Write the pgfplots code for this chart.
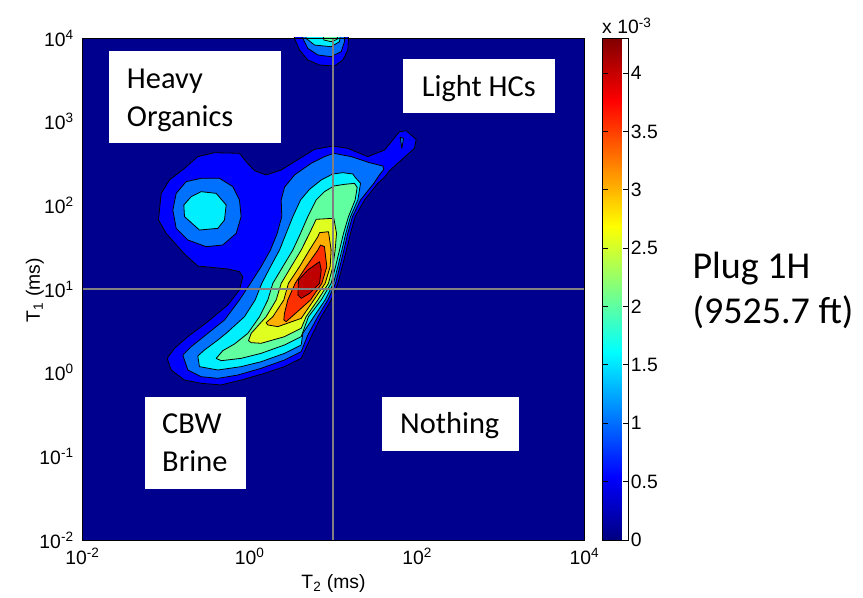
\documentclass[border=0pt]{standalone}
\usepackage{fontspec}
\setmainfont{Liberation Sans}
\newfontfamily\calibri{Carlito}
\usepackage{pgfplots}
\pgfplotsset{compat=1.18}

% contour level colours (jet, levels 0, 0.5, ..., 4 x 10^-3)
\definecolor{lev0}{rgb}{0,0,0.5625}
\definecolor{lev1}{rgb}{0,0,1}
\definecolor{lev2}{rgb}{0,0.4375,1}
\definecolor{lev3}{rgb}{0,0.9375,1}
\definecolor{lev4}{rgb}{0.375,1,0.625}
\definecolor{lev5}{rgb}{0.875,1,0.125}
\definecolor{lev6}{rgb}{1,0.6875,0}
\definecolor{lev7}{rgb}{1,0.1875,0}
\definecolor{lev8}{rgb}{0.75,0,0}

\newcommand\tickfont{\fontsize{14.5}{17}\selectfont}
\newcommand\boxfont{\calibri\fontsize{22.8}{27}\selectfont}
\newcommand\plugfont{\calibri\fontsize{28.5}{34}\selectfont}

\pgfplotsset{lev/.style={draw=black, line width=0.6pt, line join=round, fill=#1}}

\begin{document}
\begin{tikzpicture}
% coordinates are log10 of T2 and T1 (ms)
\begin{axis}[
  at={(0,0)}, anchor=south west,
  scale only axis, width=376.5pt, height=376.5pt,
  xmin=-2, xmax=4, ymin=-2, ymax=4,
  axis background/.style={fill=lev0},
  axis on top,
  axis line style={black, line width=0.6pt},
  major tick length=0pt,
  xtick={-2,0,2,4},
  xticklabels={10\textsuperscript{-2},10\textsuperscript{0},10\textsuperscript{2},10\textsuperscript{4}},
  ytick={-2,-1,0,1,2,3,4},
  yticklabels={10\textsuperscript{-2},10\textsuperscript{-1},10\textsuperscript{0},10\textsuperscript{1},10\textsuperscript{2},10\textsuperscript{3},10\textsuperscript{4}},
  xticklabel style={font=\tickfont, inner sep=0pt, yshift=-6pt},
  yticklabel style={font=\tickfont, inner sep=0pt, xshift=-6.4pt},
  xlabel={T\textsubscript{2} (ms)}, ylabel={T\textsubscript{1} (ms)},
  label style={font=\tickfont},
  xlabel style={at={(axis description cs:0.5,-0.0976)}, anchor=base, inner sep=0pt},
  ylabel style={at={(axis description cs:-0.0847,0.498)}, anchor=base, inner sep=0pt},
  no markers,
  colorbar,
  colormap/jet,
  point meta min=0, point meta max=4.3,
  colorbar shift/.style={},
  colorbar style={
    at={(parent axis.north east)}, anchor=north west, xshift=13.65pt,
    scale only axis, width=19pt, height=376.5pt,
    ytick={0,0.5,1,1.5,2,2.5,3,3.5,4},
    yticklabels={0,0.5,1,1.5,2,2.5,3,3.5,4},
    yticklabel style={font=\tickfont, inner sep=0pt, xshift=2pt},
    ytick pos=both, yticklabel pos=right,
    tick align=inside, major tick length=4pt,
    tick style={black, line width=0.6pt},
    axis line style={black, line width=0.6pt},
  },
]

% level 0.5
\addplot[lev=lev1] coordinates {
(-1.080,1.944) (-1.060,2.143) (-0.960,2.303) (-0.781,2.442) (-0.622,2.582) (-0.422,2.629)
(-0.124,2.622) (-0.044,2.522) (0.056,2.414) (0.195,2.363) (0.375,2.422) (0.534,2.522)
(0.773,2.669) (0.992,2.709) (1.171,2.681) (1.410,2.582) (1.610,2.661) (1.789,2.880)
(1.869,2.892) (1.988,2.789) (1.968,2.681) (1.789,2.522) (1.669,2.414) (1.610,2.335)
(1.530,2.263) (1.371,2.064) (1.259,1.865) (1.203,1.665) (1.155,1.466) (1.104,1.267)
(1.052,1.068) (0.972,0.869) (0.853,0.669) (0.753,0.470) (0.614,0.171) (0.414,0.072)
(0.175,-0.008) (-0.104,-0.088) (-0.343,-0.147) (-0.582,-0.127) (-0.781,-0.088) (-0.940,0.032)
(-0.988,0.171) (-0.900,0.291) (-0.741,0.430) (-0.502,0.610) (-0.263,0.809) (-0.124,0.988)
(-0.084,1.147) (-0.124,1.207) (-0.263,1.239) (-0.622,1.275) (-0.781,1.418) (-1.000,1.665)
(-1.092,1.825)} -- cycle;
\addplot[lev=lev1] coordinates {
(0.514,4.135) (0.534,3.996) (0.594,3.857) (0.693,3.737) (0.833,3.677) (1.012,3.665)
(1.112,3.737) (1.171,3.857) (1.179,3.996) (1.179,4.135)} -- cycle;

% level 1.0
\addplot[lev=lev2] coordinates {
(-0.880,2.143) (-0.761,2.283) (-0.582,2.323) (-0.363,2.323) (-0.203,2.223) (-0.124,2.064)
(-0.104,1.865) (-0.163,1.665) (-0.323,1.526) (-0.522,1.506) (-0.741,1.586) (-0.880,1.725)
(-0.920,1.944)} -- cycle;
\addplot[lev=lev2] coordinates {
(0.375,2.064) (0.414,2.215) (0.534,2.363) (0.733,2.502) (0.892,2.582) (1.004,2.622)
(1.211,2.582) (1.430,2.510) (1.590,2.470) (1.602,2.430) (1.546,2.359) (1.482,2.263)
(1.323,2.064) (1.227,1.865) (1.171,1.665) (1.124,1.466) (1.076,1.267) (1.024,1.068)
(0.932,0.869) (0.813,0.669) (0.693,0.450) (0.614,0.251) (0.414,0.151) (0.135,0.052)
(-0.143,-0.028) (-0.382,-0.068) (-0.582,-0.048) (-0.741,0.032) (-0.801,0.211) (-0.701,0.311)
(-0.502,0.470) (-0.303,0.629) (-0.124,0.869) (0.008,1.068) (0.135,1.267) (0.247,1.466)
(0.327,1.665) (0.382,1.865)} -- cycle;
\addplot[lev=lev2] coordinates {(1.797,2.813) (1.837,2.801) (1.817,2.681)} -- cycle;
\addplot[lev=lev2] coordinates {
(0.614,4.135) (0.633,3.996) (0.693,3.876) (0.813,3.797) (0.972,3.777) (1.092,3.837)
(1.131,3.956) (1.139,4.135)} -- cycle;

% level 1.5
\addplot[lev=lev3] coordinates {
(-0.701,2.104) (-0.582,2.163) (-0.402,2.143) (-0.283,2.004) (-0.303,1.825) (-0.382,1.725)
(-0.602,1.705) (-0.781,1.865) (-0.789,2.004)} -- cycle;
\addplot[lev=lev3] coordinates {
(0.606,2.064) (0.713,2.191) (0.853,2.303) (0.992,2.375) (1.112,2.390) (1.231,2.375)
(1.259,2.335) (1.323,2.263) (1.291,2.064) (1.203,1.865) (1.147,1.665) (1.100,1.466)
(1.052,1.267) (1.000,1.068) (0.900,0.869) (0.765,0.669) (0.633,0.470) (0.614,0.331)
(0.414,0.231) (0.135,0.131) (-0.104,0.072) (-0.382,0.032) (-0.602,0.072) (-0.622,0.199)
(-0.542,0.271) (-0.382,0.390) (-0.283,0.470) (-0.064,0.669) (0.064,0.869) (0.143,1.068)
(0.247,1.267) (0.355,1.466) (0.434,1.665) (0.514,1.865)} -- cycle;
\addplot[lev=lev3] coordinates {
(0.661,4.135) (0.673,3.996) (0.773,3.916) (0.972,3.896) (1.072,3.956) (1.092,4.135)} -- cycle;

% level 2.0
\addplot[lev=lev4] coordinates {
(0.793,2.064) (0.892,2.163) (1.004,2.231) (1.131,2.251) (1.251,2.263) (1.283,2.215)
(1.259,2.064) (1.179,1.865) (1.120,1.665) (1.072,1.466) (1.024,1.267) (0.972,1.068)
(0.853,0.869) (0.701,0.669) (0.614,0.430) (0.414,0.331) (0.135,0.231) (-0.104,0.171)
(-0.343,0.143) (-0.402,0.171) (-0.323,0.263) (-0.183,0.343) (-0.024,0.470) (0.116,0.669)
(0.215,0.869) (0.275,1.068) (0.394,1.267) (0.514,1.466) (0.606,1.665) (0.693,1.865)} -- cycle;
\addplot[lev=lev4] coordinates {
(0.861,4.135) (0.884,3.976) (0.972,3.956) (1.044,3.984) (1.060,4.135)} -- cycle;

% level 2.5
\addplot[lev=lev5] coordinates {
(0.793,1.833) (1.004,1.845) (1.036,1.665) (1.020,1.466) (0.992,1.267) (0.940,1.068)
(0.813,0.869) (0.673,0.669) (0.614,0.530) (0.414,0.430) (0.135,0.351) (0.016,0.359)
(-0.016,0.382) (0.016,0.470) (0.195,0.669) (0.315,0.869) (0.375,1.068) (0.494,1.267)
(0.614,1.466) (0.713,1.665)} -- cycle;

% level 3.0
\addplot[lev=lev6] coordinates {
(0.833,1.673) (0.940,1.685) (0.972,1.466) (0.960,1.267) (0.900,1.068) (0.765,0.869)
(0.614,0.649) (0.335,0.550) (0.215,0.570) (0.195,0.598) (0.275,0.669) (0.406,0.869)
(0.462,1.068) (0.594,1.267) (0.713,1.466) (0.813,1.625)} -- cycle;

% level 3.5
\addplot[lev=lev7] coordinates {
(0.845,1.526) (0.892,1.506) (0.920,1.267) (0.861,1.068) (0.725,0.869) (0.614,0.769)
(0.434,0.610) (0.406,0.629) (0.414,0.709) (0.454,0.869) (0.542,1.068) (0.673,1.267)
(0.813,1.466)} -- cycle;

% level 4.0
\addplot[lev=lev8] coordinates {
(0.833,1.327) (0.853,1.227) (0.833,1.068) (0.713,0.948) (0.614,0.888) (0.574,0.928)
(0.582,1.108) (0.693,1.227)} -- cycle;

% T1 = 10 ms and T2 = 10 ms guide lines
\addplot[color=black!50, line width=1.5pt] coordinates {(1,-2) (1,4)};
\addplot[color=black!50, line width=1.5pt] coordinates {(-2,1) (4,1)};
\end{axis}

% region labels
\fill[white] (19.875pt,297.75pt) rectangle (148.5pt,366.975pt);
\node[anchor=base west, inner sep=0pt, font=\boxfont] at (33.15pt,338.8pt) {Heavy};
\node[anchor=base west, inner sep=0pt, font=\boxfont] at (33.15pt,310pt) {Organics};
\fill[white] (240.15pt,320.25pt) rectangle (354.375pt,360.75pt);
\node[anchor=base, inner sep=0pt, font=\boxfont] at (297.26pt,332.5pt) {Light HCs};
\fill[white] (46.875pt,38.25pt) rectangle (122.4pt,107.475pt);
\node[anchor=base west, inner sep=0pt, font=\boxfont] at (59.6pt,80pt) {CBW};
\node[anchor=base west, inner sep=0pt, font=\boxfont] at (59.6pt,51.2pt) {Brine};
\fill[white] (224.6pt,66.975pt) rectangle (327.4pt,107.25pt);
\node[anchor=base west, inner sep=0pt, font=\boxfont] at (238.1pt,80pt) {Nothing};

% colorbar exponent and sample name
\node[anchor=base west, inner sep=0pt, font=\tickfont] at (389.6pt,379.5pt) {x 10\textsuperscript{-3}};
\node[anchor=base west, inner sep=0pt, font=\plugfont] at (457.35pt,196.3pt) {Plug 1H};
\node[anchor=base west, inner sep=0pt, font=\plugfont] at (457.35pt,162.5pt) {(9525.7 ft)};

\pgfresetboundingbox
\path[use as bounding box] (-61.875pt,-43.5pt) rectangle (585.375pt,405pt);
\end{tikzpicture}
\end{document}
